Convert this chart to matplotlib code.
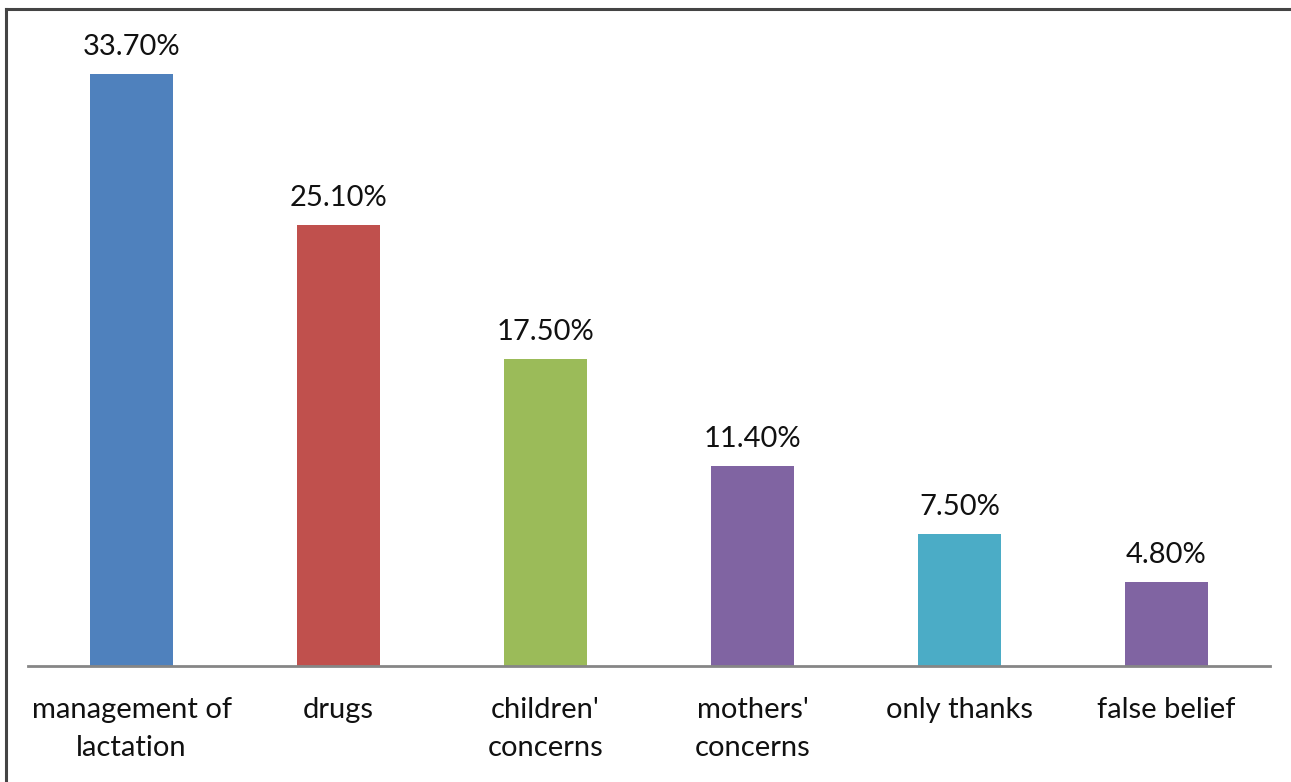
import matplotlib
matplotlib.use("Agg")
import matplotlib.pyplot as plt
from matplotlib.lines import Line2D

categories = ["management of\nlactation", "drugs", "children'\nconcerns",
              "mothers'\nconcerns", "only thanks", "false belief"]
values = [33.7, 25.1, 17.5, 11.4, 7.5, 4.8]
labels = ["33.70%", "25.10%", "17.50%", "11.40%", "7.50%", "4.80%"]
colors = ["#4F81BD", "#C0504D", "#9BBB59", "#8064A2", "#4BACC6", "#8064A2"]

plt.rcParams["font.family"] = ["Lato", "DejaVu Sans"]

W, H = 1291, 782
fig = plt.figure(figsize=(W / 100, H / 100), dpi=100)
ax = fig.add_axes([28 / W, (H - 666) / H, (1270 - 28) / W, (666 - 20) / H])

x = range(len(values))
ax.bar(x, values, width=0.4, color=colors, zorder=2)
for xi, v, lab in zip(x, values, labels):
    ax.annotate(lab, (xi, v), xytext=(0, 10), textcoords="offset points",
                ha="center", va="bottom", fontsize=21, color="#111111")

ax.set_xlim(-0.5, len(values) - 0.5)
ax.set_ylim(0, (666 - 20) / 17.57)
ax.set_xticks(list(x))
ax.set_xticklabels(categories, fontsize=21, color="#111111", linespacing=1.6)
ax.tick_params(axis="x", length=0, pad=22)
ax.set_yticks([])
for side in ["top", "right", "left"]:
    ax.spines[side].set_visible(False)
ax.spines["bottom"].set_color("#868686")
ax.spines["bottom"].set_linewidth(2)

# frame lines along the top and left edges
fig.add_artist(Line2D([6 / W, 1], [1 - 9 / H, 1 - 9 / H], color="#444444", lw=2.2))
fig.add_artist(Line2D([6 / W, 6 / W], [0, 1 - 9 / H], color="#444444", lw=2.2))

fig.savefig("out.png", dpi=100)
